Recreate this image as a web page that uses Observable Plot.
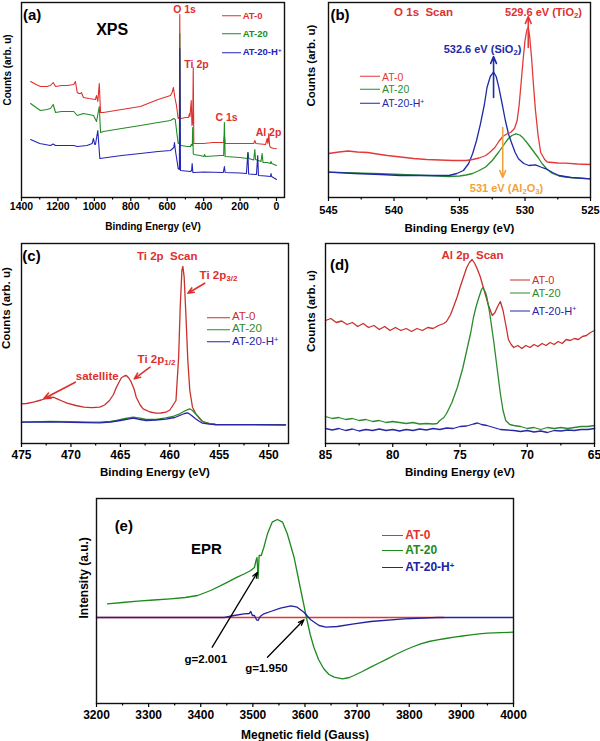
<!DOCTYPE html>
<html><head><meta charset="utf-8">
<script src="https://cdn.jsdelivr.net/npm/d3@7"></script>
<script src="https://cdn.jsdelivr.net/npm/@observablehq/plot@0.6"></script>
<style>
body{margin:0;background:#fff;font-family:"Liberation Sans",Arial,sans-serif}
#root{position:relative;width:600px;height:741px;overflow:hidden;background:#fff}
.panel{position:absolute}
.leg{position:absolute;display:flex;align-items:center;white-space:nowrap;transform:translateY(-50%);font-family:"Liberation Sans",Arial,sans-serif;line-height:1}
.leg .sw{display:inline-block;height:0;margin-right:2px}
.leg sup{font-size:65%;vertical-align:0.45em;line-height:0}
</style></head><body><div id="root"></div><script>
// ---------- (a) XPS survey: [binding energy eV, counts arb.u.]
const surveyAT0 = [[1350,116],[1320,113],[1296,111],[1260,111],[1241,112],[1226,115],[1213,111],[1180,112],[1150,112],[1113,113],[1104,116],[1094,105],[1085,104],[1076,104],[1071,105],[1060,100],[1030,99],[994,98],[988,102],[981,96],[973,114],[966,85],[950,85],[850,88],[747,91],[650,98],[582,102],[573,105],[566,110],[558,100],[549,92],[540,79],[533,80],[531,183],[528,79],[524,79],[500,80],[483,80],[478,84],[475,81],[468,97],[464,72],[460,75],[457,130],[454,54],[400,54],[350,55],[307,55],[290,55],[286,62],[282,54],[200,54],[125,54],[119,57],[113,54],[60,53],[51,59],[47,54],[42,64],[38,52],[33,50],[15,49],[0,48.7]];
const surveyAT20 = [[1350,94],[1320,90],[1296,87],[1260,88],[1241,89],[1226,93],[1213,85],[1180,86],[1150,86],[1113,86],[1094,82],[1060,84],[1030,83],[1005,82],[988,76],[973,91],[966,65],[950,66],[850,69],[747,72],[650,75],[582,77],[564,79],[556,78],[540,54],[533,55],[531,164],[528,52],[524,52],[490,51],[472,51],[468,53],[462,52],[460,70],[457,44],[454,43],[420,42],[399,41],[395,43],[390,41],[307,42],[290,42],[286,75],[282,41],[200,40],[160,39],[156,45],[152,39],[125,37.5],[119,48],[115,38],[85,36],[79,44],[74,35],[50,35],[33,34],[30,36],[26,34],[0,32]];
const surveyAT20H = [[1350,58],[1300,54],[1241,52],[1226,53.5],[1213,52],[1150,52],[1113,52],[1094,51],[1040,52],[1012,54],[1005,59],[998,53],[994,53],[981,67],[970,39],[930,40],[850,42],[747,44],[650,46],[582,47],[564,50],[560,55],[555,47],[549,40],[540,29],[533,28],[531,149],[527,27],[500,26.5],[472,26],[466,27],[463,34],[459,25],[457,25],[400,25.5],[292,25],[286,31],[282,25],[200,24.5],[165,24],[157,45],[153,23.5],[110,23],[103,42],[99,22],[60,21.5],[33,21],[30,24],[27,21],[0,18]];
const surveyTicks = [1400,1200,1000,800,600,400,200,0];
const surveyMinor = [1300,1100,900,700,500,300,100];

// ---------- (b) O 1s
const o1sAT0 = [[545,44],[544.2,45.5],[543.5,46.5],[542.8,45.5],[542,45],[541.3,43.5],[540.5,42],[539.5,40.5],[538.5,39],[537.5,38],[536.5,37.5],[535.5,37],[534.5,37],[534,38],[533.5,39.5],[533,42],[532.7,45],[532.3,50],[532,56],[531.7,61],[531.4,63.5],[531.1,65],[530.8,69],[530.6,77],[530.45,92],[530.3,114],[530.15,137],[530,157],[529.85,168],[529.75,170],[529.65,162],[529.5,140],[529.35,112],[529.2,87],[529,62],[528.8,45],[528.5,38],[528.3,35.5],[527.5,34.5],[526.9,34.3],[526,33.5],[525,33]];
const o1sAT20 = [[545,25.3],[543,24.5],[541,23.8],[539.5,23],[537.5,22],[535.8,21],[535,21.5],[534.5,22.5],[534,24],[533.5,27],[533,30.5],[532.5,37],[532,45.5],[531.6,53],[531.3,58.5],[531,62],[530.7,63.7],[530.4,62.5],[530.2,60.3],[529.8,54],[529.4,47],[529,40],[528.7,34],[528.3,28],[527.9,24],[527.4,21.5],[526.9,20.3],[526,19.5],[525,18.7]];
const o1sAT20H = [[545,25.3],[543,24],[541,23],[539.5,22],[537.5,22],[535.8,22],[535.2,24],[534.7,27],[534.3,34],[534,43.7],[533.7,57],[533.4,73.7],[533.1,93],[532.9,110],[532.65,121],[532.4,125.3],[532.2,121],[532,110.3],[531.75,94],[531.5,77],[531.25,63],[531,53.7],[530.75,45],[530.5,38.7],[530.1,34],[529.7,32],[529.2,32.7],[528.8,30.5],[528.4,28.7],[527.9,25],[527.4,22],[526.5,20],[525,18.7]];
const o1sTicks = [545,540,535,530,525];
const o1sMinor = [542.5,537.5,532.5,527.5];
const o1sArrows = [
  {x1:529.75,y1:150,x2:529.75,y2:181,c:"#e23a3a"},
  {x1:532.4,y1:100,x2:532.4,y2:141,c:"#1f2aa6"},
  {x1:531.7,y1:70,x2:531.7,y2:20,c:"#f0a33a"}];

// ---------- (c) Ti 2p
const ti2pAT0 = [[475,38.7],[474.5,39],[473.8,40.3],[473,42.5],[472.5,44.5],[472.1,45.3],[471.7,45],[471.4,43.7],[470.9,41.5],[470.4,39.3],[469.5,37],[468.7,35.3],[467.9,34.8],[467.1,35.3],[466.6,37.5],[466.1,42],[465.7,48],[465.4,55.3],[465.1,61],[464.9,64.7],[464.6,66.5],[464.4,67],[464.15,64.5],[463.9,60.3],[463.6,53],[463.4,45.3],[463,37.5],[462.7,33.7],[462,30.5],[461.4,29.3],[460.9,29.5],[460.4,30.3],[460,32.5],[459.7,37],[459.38,42],[459.11,85.3],[458.95,135.3],[458.78,172],[458.68,176],[458.55,165.3],[458.38,128.7],[458.18,82],[457.98,52],[457.71,35.3],[457.37,28.7],[457,24],[456.7,21],[456,18.8],[455.4,18],[452,17.8],[448.3,17.7]];
const ti2pAT20 = [[475,20.3],[473,20.8],[472.1,21],[470,20.8],[468,20.3],[467.1,20.3],[466,21],[465.4,22],[464.5,24],[463.7,25.3],[463,24.3],[462.4,23],[461.4,23.2],[460.4,24.7],[459.7,26],[459,28.7],[458.5,31.5],[458,33.7],[457.7,32],[457.4,28.7],[457,24.5],[456.7,21],[456,18.8],[455.4,18],[452,17.8],[448.3,17.7]];
const ti2pAT20H = [[475,20.3],[472,20.6],[470,20.2],[467.1,19.7],[466,20.5],[465,22],[463.7,24.3],[463,23],[462.4,22],[461.4,22.5],[460.4,23.3],[459.5,25],[459,27],[458.5,29],[458.2,29.7],[457.8,27],[457.4,23.7],[457,21],[456.7,19.3],[456,18.3],[455.4,18],[452,17.8],[448.3,17.7]];
const ti2pTicks = [475,470,465,460,455,450];
const ti2pMinor = [472.5,467.5,462.5,457.5,452.5];
const ti2pArrows = [
  {x1:456.47,y1:159.3,x2:458.18,y2:149.3},
  {x1:462.0,y1:75.3,x2:463.6,y2:63.7},
  {x1:469.56,y1:60.3,x2:472.75,y2:43.7}];

// ---------- (d) Al 2p
const al2pAT0 = [[85,122],[84.6,124],[84.2,120],[83.8,121.5],[83.4,118],[83,120],[82.6,116],[82.2,119],[81.8,115],[81.4,117],[81,113],[80.6,116],[80.2,112],[79.8,115],[79.4,112],[79,114],[78.6,111],[78.2,114],[77.8,112],[77.4,115],[77,114],[76.6,117],[76.2,119],[76,121],[75.7,128],[75.5,135],[75.2,146],[75,155],[74.7,167],[74.5,175],[74.3,180],[74.1,183],[73.9,179],[73.7,173],[73.5,166],[73.2,152],[72.9,138],[72.6,127],[72.4,130],[72.2,136],[72,141],[71.8,132],[71.6,118],[71.4,103],[71.2,98],[71,95],[70.7,97],[70.4,94],[70.1,97],[69.8,95],[69.5,98],[69.2,96],[68.9,99],[68.6,97],[68.3,100],[68,98],[67.7,101],[67.4,99],[67.1,103],[66.8,102],[66.5,104],[66.2,103],[65.9,106],[65.6,107],[65.3,110],[65,112]];
const al2pAT20 = [[85,26],[84.5,24],[84,25],[83.5,23],[83,24],[82.5,22],[82,23],[81.5,21],[81,22],[80.5,20],[80,21],[79.5,20],[79,19],[78.5,20],[78,18.5],[77.5,19],[77,18.5],[76.7,19],[76.5,22],[76.2,25],[76,29],[75.6,40],[75.2,55],[74.8,74],[74.5,92],[74.2,110],[74,125],[73.8,136],[73.6,145],[73.4,153],[73.3,155],[73.1,150],[73,145],[72.8,130],[72.5,102],[72.2,70],[72,49],[71.8,32],[71.6,22],[71.3,18],[71,17],[70.5,16],[70,14],[69.5,15],[69,13],[68.5,15],[68,14],[67.5,15],[67,14],[66.5,15],[66,16],[65.5,16],[65,17]];
const al2pAT20H = [[85,14],[84.5,12.5],[84,14],[83.5,12],[83,13.5],[82.5,11.5],[82,13],[81.5,12],[81,13.5],[80.5,12],[80,13],[79.5,11.5],[79,13],[78.5,12],[78,13.5],[77.5,12.5],[77,14],[76.5,13],[76,14.5],[75.5,14],[75,16],[74.5,16.5],[74,18.5],[73.7,19.5],[73.4,18],[73,17],[72.5,15],[72,13],[71.5,12.5],[71,12],[70.5,11],[70,12],[69.5,10.5],[69,11.5],[68.5,10],[68,12],[67.5,11.5],[67,12.5],[66.5,12],[66,13],[65.5,13],[65,14]];
const al2pTicks = [85,80,75,70,65];
const al2pMinor = [82.5,77.5,72.5,67.5];

// ---------- (e) EPR: [field G, intensity a.u.]
const eprAT0 = [[3200,0],[3866,0]];
const eprAT20 = [[3221,13.7],[3250,15],[3279,16.3],[3310,17.5],[3342,18.7],[3370,20],[3394,22],[3419,27],[3445,33.7],[3470,40.3],[3485,44],[3496,47],[3503,50],[3506,57],[3508,60],[3510,39],[3512,62],[3516,62],[3521,70],[3528,83.7],[3537,95.3],[3547,98],[3557,95.3],[3566,83.7],[3572,73],[3579,60.3],[3585,45],[3592,27],[3598,12],[3604,-3],[3610,-17],[3617,-29.7],[3626,-42],[3636,-51.3],[3646,-57],[3656,-59.7],[3672,-61.3],[3685,-60],[3694,-58],[3710,-54],[3726,-49.7],[3742,-45.5],[3758,-41.3],[3774,-37],[3790,-33],[3806,-29.5],[3822,-26.3],[3838,-24],[3854,-22.3],[3870,-21],[3886,-19.7],[3902,-18.5],[3918,-17.3],[3934,-16.4],[3950,-15.7],[3975,-15.2],[4000,-14.7]];
const eprAT20H = [[3200,0],[3445,0],[3464,2],[3483,3.7],[3493,4],[3496,6],[3499,2],[3503,2],[3507,-2.3],[3510,-3],[3514,1],[3521,3.7],[3534,6],[3553,9.3],[3573,11.7],[3585,10.3],[3598,5.3],[3611,-2.3],[3627,-8],[3640,-9.7],[3662,-9],[3694,-6.3],[3726,-4],[3790,-1.3],[3854,0],[4000,0]];
const eprTicks = [3200,3300,3400,3500,3600,3700,3800,3900,4000];
const eprMinor = [3250,3350,3450,3550,3650,3750,3850,3950];
const eprArrows = [
  {x1:3422,y1:-29.7,x2:3509,y2:45.3},
  {x1:3528,y1:-39.7,x2:3598,y2:-2.3}];

const seriesNames = ["AT-0","AT-20","AT-20-H^{+}"];

// ---------- helpers
const FONT = "'Liberation Sans', Arial, Helvetica, sans-serif";
const root = document.getElementById("root");
const ann = (str, cx, cy, o = {}) => Plot.text([str], {text: d => d, frameAnchor: "top-left", dx: cx, dy: cy, textAnchor: "middle", lineAnchor: "middle", fontWeight: "bold", ...o});

function panel(c) {
  const marks = [
    ...c.series.map(s => Plot.line(s.data, {x: d => d[0], y: d => d[1], stroke: s.color, strokeWidth: s.w ?? 1.3})),
    Plot.frame({stroke: "#111", strokeWidth: 1.4}),
    Plot.axisX(c.minor, {tickSize: 2.5, tickFormat: () => "", label: null, strokeWidth: 1.2}),
    Plot.axisX(c.major, {tickSize: 4, tickPadding: c.tickPad, fontSize: c.tickFont, fontWeight: "bold", label: null, tickFormat: d => String(d), strokeWidth: 1.2}),
    ...(c.extra || []),
    Plot.text([c.xLabel], {text: d => d, frameAnchor: "bottom", dy: c.xLabelDy, fontSize: c.xLabelFont, fontWeight: "bold", lineAnchor: "middle"}),
    Plot.text([c.yLabel], {text: d => d, frameAnchor: "left", dx: c.yLabelDx, dy: c.yLabelDy, rotate: -90, fontSize: c.yLabelFont, fontWeight: "bold", lineAnchor: "middle"})
  ];
  const p = Plot.plot({
    width: c.width, height: c.height,
    marginLeft: c.m[0], marginRight: c.m[1], marginTop: c.m[2], marginBottom: c.m[3],
    x: {domain: c.xDomain, axis: null}, y: {domain: c.yDomain, axis: null},
    style: {fontFamily: FONT, color: "#000", background: "transparent", overflow: "visible"},
    marks
  });
  p.classList.add("panel");
  p.style.left = c.left + "px"; p.style.top = c.top + "px";
  root.appendChild(p);
}

function legend(items) {
  items.forEach(it => {
    const d = document.createElement("div");
    d.className = "leg";
    d.style.left = it.x1 + "px"; d.style.top = it.y + "px";
    d.style.fontSize = it.size + "px"; d.style.fontWeight = it.bold ? "bold" : "normal";
    d.style.color = it.color;
    const sw = document.createElement("span");
    sw.className = "sw"; sw.style.width = (it.x2 - it.x1) + "px";
    sw.style.borderTop = "1.6px solid " + it.color;
    d.appendChild(sw);
    const t = document.createElement("span");
    t.innerHTML = it.label.replace(/\^\{([^}]*)\}/g, "<sup>$1</sup>");
    d.appendChild(t);
    root.appendChild(d);
  });
}
function legendSet(x1, x2, ys, colors, size, bold) {
  legend(seriesNames.map((n, i) => ({x1, x2, y: ys[i], label: n, color: colors[i], size, bold})));
}

function richify(el) {
  const ns = "http://www.w3.org/2000/svg";
  el.querySelectorAll("text").forEach(t => {
    const s = t.textContent;
    if (!/[_^]\{/.test(s)) return;
    while (t.firstChild) t.removeChild(t.firstChild);
    const re = /([_^])\{([^}]*)\}/g; let last = 0, m;
    const add = (txt, shift) => {
      const ts = document.createElementNS(ns, "tspan");
      ts.textContent = txt;
      if (shift) { ts.setAttribute("baseline-shift", shift === "sub" ? "-28%" : "40%"); ts.setAttribute("font-size", "70%"); }
      t.appendChild(ts);
    };
    while ((m = re.exec(s))) {
      if (m.index > last) add(s.slice(last, m.index));
      add(m[2], m[1] === "_" ? "sub" : "super");
      last = re.lastIndex;
    }
    if (last < s.length) add(s.slice(last));
  });
}

const RED = "#e0302e";
// (a)
panel({left: 0, top: 0, width: 300, height: 240, m: [21, 16, 2, 43],
  xDomain: [1400, -44], yDomain: [0, 195], major: surveyTicks, minor: surveyMinor,
  tickFont: 10.5, tickPad: 1, xLabel: "Binding Energy (eV)", xLabelDy: 29, xLabelFont: 10,
  yLabel: "Counts (arb. u)", yLabelDx: -14, yLabelDy: 5.5, yLabelFont: 10,
  series: [{data: surveyAT0, color: "#e0302e", w: 1.1}, {data: surveyAT20, color: "#238b23", w: 1.1}, {data: surveyAT20H, color: "#2424b8", w: 1.1}],
  extra: [
    ann("(a)", 10.7, 13, {fontSize: 15}),
    ann("XPS", 90.7, 27, {fontSize: 16}),
    ann("O 1s", 163, 7, {fontSize: 10.5, fill: RED}),
    ann("Ti 2p", 175, 62, {fontSize: 10.5, fill: RED}),
    ann("C 1s", 205, 114.7, {fontSize: 10.5, fill: RED}),
    ann("Al 2p", 247, 130, {fontSize: 10.5, fill: RED})
  ]});
legendSet(221.7, 240.7, [16, 33.7, 52.3], ["#e0302e", "#238b23", "#2424b8"], 9.5, true);

// (b)
panel({left: 300, top: 0, width: 300, height: 240, m: [28, 10, 2, 43],
  xDomain: [545, 525], yDomain: [0, 195], major: o1sTicks, minor: o1sMinor,
  tickFont: 11, tickPad: 5, xLabel: "Binding Energy (eV)", xLabelDy: 30.5, xLabelFont: 11.5,
  yLabel: "Counts (arb. u)", yLabelDx: -17, yLabelDy: 6.5, yLabelFont: 11.5,
  series: [{data: o1sAT20, color: "#2a8c2a"}, {data: o1sAT20H, color: "#1f2aa6"}, {data: o1sAT0, color: "#e23a3a"}],
  extra: [
    Plot.arrow(o1sArrows, {x1: "x1", y1: "y1", x2: "x2", y2: "y2", stroke: "c", strokeWidth: 1.6, headLength: 7, headAngle: 45}),
    ann("(b)", 11.5, 13, {fontSize: 15}),
    ann("O 1s\u00a0\u00a0Scan", 95, 10, {fontSize: 11.5, fill: RED}),
    ann("529.6 eV (TiO_{2})", 215, 10, {fontSize: 11, fill: RED}),
    ann("532.6 eV (SiO_{2})", 154, 47, {fontSize: 11, fill: "#1f2aa6"}),
    ann("531 eV (Al_{2}O_{3})", 178, 186, {fontSize: 11, fill: "#f0a33a"})
  ]});
legendSet(360, 380, [76.7, 89.3, 103], ["#e23a3a", "#2a8c2a", "#1f2aa6"], 10.5, false);

// (c)
panel({left: 0, top: 240, width: 300, height: 240, m: [21, 12, 3, 37],
  xDomain: [475, 448], yDomain: [-1, 199], major: ti2pTicks, minor: ti2pMinor,
  tickFont: 12, tickPad: 3, xLabel: "Binding Energy (eV)", xLabelDy: 29, xLabelFont: 11.5,
  yLabel: "Counts (arb. u)", yLabelDx: -15, yLabelDy: 5.5, yLabelFont: 11.5,
  series: [{data: ti2pAT0, color: "#c8312d"}, {data: ti2pAT20, color: "#2c8a2c"}, {data: ti2pAT20H, color: "#2626a8"}],
  extra: [
    Plot.arrow(ti2pArrows, {x1: "x1", y1: "y1", x2: "x2", y2: "y2", stroke: RED, strokeWidth: 1.6, headLength: 7, headAngle: 45}),
    ann("(c)", 10, 12.5, {fontSize: 15}),
    ann("Ti 2p\u00a0\u00a0Scan", 145.7, 12.5, {fontSize: 11.5, fill: RED}),
    ann("Ti 2p_{3/2}", 197, 31.5, {fontSize: 11.5, fill: RED}),
    ann("Ti 2p_{1/2}", 135, 116, {fontSize: 11.5, fill: RED}),
    ann("satellite", 75.7, 132.5, {fontSize: 11.5, fill: RED})
  ]});
legendSet(207, 230, [317.3, 329.3, 341.7], ["#c8312d", "#2c8a2c", "#2626a8"], 11.5, false);

// (d)
panel({left: 300, top: 240, width: 300, height: 240, m: [25, 6, 3, 37],
  xDomain: [85, 65], yDomain: [-1, 199], major: al2pTicks, minor: al2pMinor,
  tickFont: 12, tickPad: 3, xLabel: "Binding Energy (eV)", xLabelDy: 29, xLabelFont: 11.5,
  yLabel: "Counts (arb. u)", yLabelDx: -14, yLabelDy: 8.5, yLabelFont: 11.5,
  series: [{data: al2pAT0, color: "#c8312d"}, {data: al2pAT20, color: "#2c8a2c"}, {data: al2pAT20H, color: "#2626a8"}],
  extra: [
    ann("(d)", 14, 22, {fontSize: 15}),
    ann("Al 2p\u00a0\u00a0Scan", 147, 12, {fontSize: 11.5, fill: RED})
  ]});
legendSet(510, 530, [280, 293.3, 311], ["#c8312d", "#2c8a2c", "#2626a8"], 11, false);

// (e)
panel({left: 0, top: 480, width: 600, height: 261, m: [96, 87, 18, 38],
  xDomain: [3200, 4000], yDomain: [-86, 119], major: eprTicks, minor: eprMinor,
  tickFont: 12, tickPad: 3.4, xLabel: "Megnetic field (Gauss)", xLabelDy: 31.5, xLabelFont: 12,
  yLabel: "Intensity (a.u.)", yLabelDx: -12.7, yLabelDy: 17.5, yLabelFont: 12,
  series: [{data: eprAT0, color: "#e8302c"}, {data: eprAT20, color: "#1d8a1d"}, {data: eprAT20H, color: "#2222a0"}],
  extra: [
    Plot.arrow(eprArrows, {x1: "x1", y1: "y1", x2: "x2", y2: "y2", stroke: "#000", strokeWidth: 1.3, headLength: 7, headAngle: 40}),
    ann("(e)", 27.3, 27.5, {fontSize: 15}),
    ann("EPR", 110, 51, {fontSize: 15}),
    ann("g=2.001", 109.3, 161, {fontSize: 11.5}),
    ann("g=1.950", 170, 170, {fontSize: 11.5})
  ]});
legendSet(381.7, 403.3, [535, 550, 567.3], ["#e8302c", "#1d8a1d", "#2222a0"], 12, true);

richify(root);
</script></body></html>
